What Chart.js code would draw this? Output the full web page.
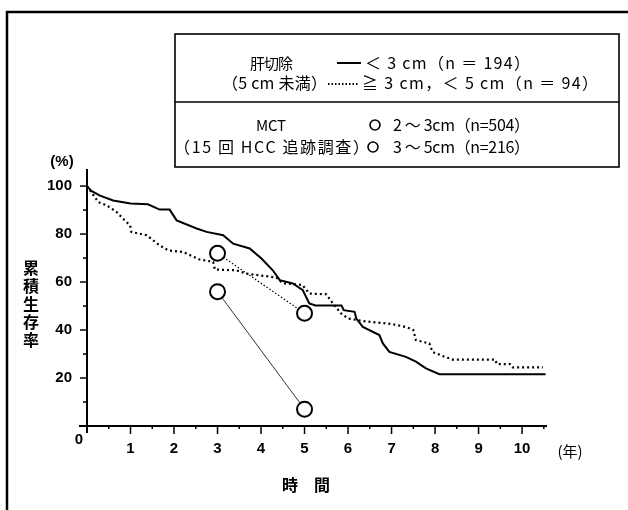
<!DOCTYPE html>
<html lang="ja">
<head>
<meta charset="utf-8">
<title>累積生存率</title>
<script src="https://cdn.jsdelivr.net/npm/chart.js@4.4.1/dist/chart.umd.min.js"></script>
<style>
  body { margin: 0; background: #fff; }
  canvas { display: block; }
</style>
</head>
<body>
<canvas id="chartSurvival" width="628" height="510"></canvas>
<script>
// 肝切除 < 3 cm (solid)
const smallYears    = [0, 0.1, 0.3, 0.6, 1.0, 1.4, 1.67, 1.9, 2.06, 2.52, 2.75, 3.13, 3.36, 3.74, 4.01, 4.27, 4.43, 4.73, 4.96, 5.11, 5.25, 5.85, 5.9, 6.15, 6.19, 6.34, 6.72, 6.8, 6.95, 7.33, 7.56, 7.79, 8.1, 10.54];
const smallSurvival = [100, 98, 96, 94, 92.7, 92.4, 90.2, 90.2, 85.7, 82.3, 80.9, 79.5, 76, 74, 69.8, 64.9, 60.8, 59.4, 56.6, 51.1, 50.2, 50.2, 48.3, 47.6, 44.8, 41.3, 37.9, 34.4, 30.9, 28.8, 26.8, 24, 21.6, 21.6];

// 肝切除 ≧ 3 cm, < 5 cm (dotted)
const midYears    = [0, 0.26, 0.45, 0.68, 0.83, 0.99, 1.02, 1.37, 1.67, 1.87, 2.21, 2.59, 2.9, 2.94, 3.43, 3.66, 4.35, 4.5, 4.95, 5.11, 5.5, 5.65, 5.84, 6.0, 6.4, 7.0, 7.35, 7.5, 7.56, 7.87, 7.94, 8.2, 8.4, 9.38, 9.42, 9.72, 9.78, 10.48];
const midSurvival = [100, 93.3, 92, 89.2, 86.4, 83.6, 80.9, 79.5, 75.3, 73.2, 72.5, 69.4, 68.4, 65.2, 64.9, 63.5, 61.9, 59.5, 58.8, 55.2, 54.9, 51.1, 46.9, 44.8, 43.6, 42.5, 41.2, 40, 35.8, 34.4, 30.9, 29, 27.7, 27.7, 25.8, 25.8, 24.4, 24.4];

// MCT (第15回 HCC 追跡調査)
const mctYears = [3, 5];
const mctSmall = [72, 47];   // 2〜3cm
const mctMid   = [56, 7];    // 3〜5cm

const yTicks = [20, 40, 60, 80, 100];
const xTicks = [1, 2, 3, 4, 5, 6, 7, 8, 9, 10];

const FONT = '"Liberation Sans", "Noto Sans CJK JP", sans-serif';
const JFONT = '"Noto Sans CJK JP", "Liberation Sans", sans-serif';

const toPoints = (xs, ys) => xs.map((x, i) => ({ x: x, y: ys[i] }));

// draw text so it spans x1..x2 by adjusting the letter spacing a little
function spreadText(ctx, text, x1, x2, y) {
    ctx.letterSpacing = "0px";
    const w = ctx.measureText(text).width;
    const n = [...text].length;
    const gap = (x2 - x1 - w) / Math.max(1, n - 1);
    ctx.letterSpacing = gap + "px";
    ctx.textAlign = "left";
    ctx.fillText(text, x1, y);
    ctx.letterSpacing = "0px";
}

// Frame, legend box, axis titles and the short ticks
const decorations = {
    id: "decorations",
    afterDraw(chart) {
        const ctx = chart.ctx;
        const xs = chart.scales.x;
        const ys = chart.scales.y;
        ctx.save();
        ctx.strokeStyle = "#000";
        ctx.fillStyle = "#000";

        // outer frame (runs off the right and bottom)
        ctx.lineWidth = 2.5;
        ctx.strokeRect(7, 12, 640, 520);

        // legend box
        ctx.lineWidth = 1.6;
        ctx.strokeRect(175, 34, 444, 133);
        ctx.beginPath();
        ctx.moveTo(175, 102);
        ctx.lineTo(619, 102);
        ctx.stroke();

        ctx.textBaseline = "middle";
        ctx.font = "15px " + JFONT;
        spreadText(ctx, "肝切除", 250, 293, 63);
        spreadText(ctx, "MCT", 256, 286, 125);
        ctx.font = "16px " + JFONT;
        spreadText(ctx, "（5 cm 未満）", 222, 327, 83);
        spreadText(ctx, "（15 回 HCC 追跡調査）", 174, 369, 147);
        spreadText(ctx, "＜ 3 cm（n ＝ 194）", 365, 530, 63);
        spreadText(ctx, "≧ 3 cm，＜ 5 cm（n ＝ 94）", 362, 598, 83);
        spreadText(ctx, "2 ～ 3cm（n=504）", 393, 530, 125);
        spreadText(ctx, "3 ～ 5cm（n=216）", 393, 530, 147);

        ctx.lineWidth = 2;
        ctx.beginPath();
        ctx.moveTo(337, 63);
        ctx.lineTo(361, 63);
        ctx.stroke();
        ctx.setLineDash([1.5, 2]);
        ctx.beginPath();
        ctx.moveTo(328, 84);
        ctx.lineTo(359, 84);
        ctx.stroke();
        ctx.setLineDash([]);
        ctx.lineWidth = 1.6;
        [[375, 125], [373, 147]].forEach(([cx, cy]) => {
            ctx.beginPath();
            ctx.arc(cx, cy, 5, 0, Math.PI * 2);
            ctx.stroke();
        });

        // axis overhang at the origin
        ctx.lineWidth = 2;
        ctx.beginPath();
        ctx.moveTo(xs.left - 8, ys.bottom);
        ctx.lineTo(xs.left, ys.bottom);
        ctx.moveTo(xs.left, ys.bottom);
        ctx.lineTo(xs.left, ys.bottom + 7);
        ctx.stroke();

        // minor / major ticks
        ctx.lineWidth = 1.5;
        for (let v = 10; v <= 100; v += 10) {
            const py = ys.getPixelForValue(v);
            const len = v % 20 === 0 ? 7 : 4;
            ctx.beginPath();
            ctx.moveTo(xs.left, py);
            ctx.lineTo(xs.left - len, py);
            ctx.stroke();
        }
        for (let t = 0.5; t <= 10.5; t += 0.5) {
            const px = xs.getPixelForValue(t);
            const len = Number.isInteger(t) ? 8 : 3;
            ctx.beginPath();
            ctx.moveTo(px, ys.bottom);
            ctx.lineTo(px, ys.bottom + len);
            ctx.stroke();
        }

        // axis titles and units
        ctx.font = "bold 15px " + FONT;
        ctx.textAlign = "center";
        ctx.fillText("(%)", 62, 162);
        ctx.fillText("0", 79, 440);
        ctx.font = "15px " + JFONT;
        ctx.fillText("(年)", 570, 451);
        ctx.font = "bold 16px " + JFONT;
        ctx.fillText("時　間", 306, 485);
        const yTitle = "累積生存率";
        for (let i = 0; i < yTitle.length; i++) {
            ctx.fillText(yTitle[i], 31, 268 + i * 18);
        }
        ctx.restore();
    }
};

new Chart(document.getElementById("chartSurvival"), {
    type: "line",
    data: {
        datasets: [
            {
                label: "< 3 cm (n = 194)",
                data: toPoints(smallYears, smallSurvival),
                borderColor: "#000",
                borderWidth: 2,
                pointRadius: 0,
                tension: 0,
            },
            {
                label: "≧ 3 cm, < 5 cm (n = 94)",
                data: toPoints(midYears, midSurvival),
                borderColor: "#000",
                borderWidth: 2.2,
                borderDash: [2, 3],
                pointRadius: 0,
                tension: 0,
            },
            {
                label: "2〜3cm (n=504)",
                data: toPoints(mctYears, mctSmall),
                borderColor: "#000",
                borderWidth: 1.2,
                borderDash: [1.5, 2],
                pointRadius: 7.5,
                pointBorderWidth: 2,
                pointBackgroundColor: "#fff",
                pointBorderColor: "#000",
            },
            {
                label: "3〜5cm (n=216)",
                data: toPoints(mctYears, mctMid),
                borderColor: "#333",
                borderWidth: 1,
                pointRadius: 7.5,
                pointBorderWidth: 2,
                pointBackgroundColor: "#fff",
                pointBorderColor: "#000",
            },
        ]
    },
    options: {
        responsive: false,
        animation: false,
        layout: { padding: { top: 170, right: 82, left: 0, bottom: 0 } },
        plugins: { legend: { display: false }, tooltip: { enabled: false } },
        scales: {
            x: {
                type: "linear",
                min: 0,
                max: 10.55,
                afterFit: scale => { scale.height = 84; },
                border: { display: true, color: "#000", width: 2 },
                grid: { display: false, drawTicks: false },
                ticks: {
                    stepSize: 0.5,
                    includeBounds: false,
                    autoSkip: false,
                    maxRotation: 0,
                    padding: 14,
                    color: "#000",
                    font: { family: FONT, size: 15, weight: "bold" },
                    callback: v => xTicks.includes(v) ? String(v) : "",
                }
            },
            y: {
                min: 0,
                max: 106.7,
                afterFit: scale => { scale.width = 87; },
                border: { display: true, color: "#000", width: 2 },
                grid: { display: false, drawTicks: false },
                ticks: {
                    stepSize: 10,
                    includeBounds: false,
                    autoSkip: false,
                    padding: 15,
                    color: "#000",
                    font: { family: FONT, size: 15, weight: "bold" },
                    callback: v => yTicks.includes(v) ? String(v) : "",
                }
            }
        }
    },
    plugins: [decorations]
});
</script>
</body>
</html>
